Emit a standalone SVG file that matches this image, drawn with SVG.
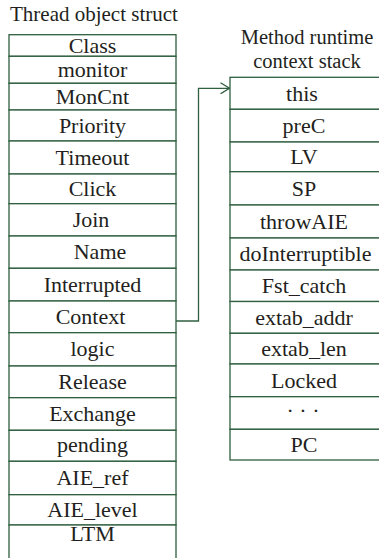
<svg xmlns="http://www.w3.org/2000/svg" width="379" height="558" viewBox="0 0 379 558" font-family="'Liberation Serif', 'DejaVu Serif', serif">
<style>
.c{fill:#ffffff;stroke:#2f5f3f;stroke-width:1.3}
text{font-family:'Liberation Serif','DejaVu Serif',serif;font-size:22px;fill:#231f20;text-anchor:middle}
.h{text-anchor:start;font-size:21px}
.t{font-size:20.5px}
.w{fill:none;stroke:#2f5f3f;stroke-width:1.3}
</style>
<defs>
<marker id="arr" viewBox="0 0 10 12" refX="9.5" refY="6" markerWidth="10" markerHeight="12" markerUnits="userSpaceOnUse" orient="auto">
<path d="M0.5,0.5 L9.5,6 L0.5,11.5" fill="none" stroke="#2f5f3f" stroke-width="1.3"/>
</marker>
</defs>
<text class="h" x="10" y="21">Thread object struct</text>
<text class="t" x="307" y="44">Method runtime</text>
<text class="t" x="307" y="67.5">context stack</text>
<g id="thread-struct">
<g id="t-class"><rect class="c" x="9" y="34.7" width="167" height="21.6"/><text x="92.5" y="52.5">Class</text></g>
<g id="t-monitor"><rect class="c" x="9" y="56.3" width="167" height="27"/><text x="92.5" y="76.5">monitor</text></g>
<g id="t-moncnt"><rect class="c" x="9" y="83.3" width="167" height="26.7"/><text x="92.5" y="103.5">MonCnt</text></g>
<g id="t-priority"><rect class="c" x="9" y="110" width="167" height="31"/><text x="92.5" y="132.5">Priority</text></g>
<g id="t-timeout"><rect class="c" x="9" y="141" width="167" height="33"/><text x="92.5" y="164.5">Timeout</text></g>
<g id="t-click"><rect class="c" x="9" y="174" width="167" height="29.7"/><text x="92.5" y="196">Click</text></g>
<g id="t-join"><rect class="c" x="9" y="203.7" width="167" height="32.3"/><text x="91" y="227">Join</text></g>
<g id="t-name"><rect class="c" x="9" y="236" width="167" height="32.3"/><text x="100" y="259">Name</text></g>
<g id="t-interrupted"><rect class="c" x="9" y="268.3" width="167" height="32.7"/><text x="92.5" y="291.5">Interrupted</text></g>
<g id="t-context"><rect class="c" x="9" y="301" width="167" height="31.7"/><text x="90.5" y="324">Context</text></g>
<g id="t-logic"><rect class="c" x="9" y="332.7" width="167" height="33.3"/><text x="92.5" y="355.5">logic</text></g>
<g id="t-release"><rect class="c" x="9" y="366" width="167" height="31.7"/><text x="92.5" y="388.5">Release</text></g>
<g id="t-exchange"><rect class="c" x="9" y="397.7" width="167" height="32.6"/><text x="92.5" y="420.5">Exchange</text></g>
<g id="t-pending"><rect class="c" x="9" y="430.3" width="167" height="31"/><text x="92.5" y="452">pending</text></g>
<g id="t-aie-ref"><rect class="c" x="9" y="461.3" width="167" height="33.4"/><text x="92.5" y="484.5">AIE_ref</text></g>
<g id="t-aie-level"><rect class="c" x="9" y="494.7" width="167" height="30.3"/><text x="92.5" y="517">AIE_level</text></g>
<g id="t-ltm"><rect class="c" x="9" y="525" width="167" height="40"/><text x="92.5" y="541">LTM</text></g>
</g>
<g id="context-stack">
<g id="s-this"><rect class="c" x="230" y="77.3" width="152" height="32"/><text x="302" y="100.5">this</text></g>
<g id="s-prec"><rect class="c" x="230" y="109.3" width="152" height="32.7"/><text x="304" y="132.5">preC</text></g>
<g id="s-lv"><rect class="c" x="230" y="142" width="152" height="29.7"/><text x="304" y="164">LV</text></g>
<g id="s-sp"><rect class="c" x="230" y="171.7" width="152" height="33.3"/><text x="304" y="195.5">SP</text></g>
<g id="s-throwaie"><rect class="c" x="230" y="205" width="152" height="33"/><text x="304" y="228.5">throwAIE</text></g>
<g id="s-dointerruptible"><rect class="c" x="230" y="238" width="152" height="32"/><text x="305.5" y="261">doInterruptible</text></g>
<g id="s-fst-catch"><rect class="c" x="230" y="270" width="152" height="31.5"/><text x="304" y="293">Fst_catch</text></g>
<g id="s-extab-addr"><rect class="c" x="230" y="301.5" width="152" height="31.8"/><text x="304" y="324.5">extab_addr</text></g>
<g id="s-extab-len"><rect class="c" x="230" y="333.3" width="152" height="30.7"/><text x="304" y="355.5">extab_len</text></g>
<g id="s-locked"><rect class="c" x="230" y="364" width="152" height="32.7"/><text x="304" y="387.5">Locked</text></g>
<g id="s-dots"><rect class="c" x="230" y="396.7" width="152" height="32.6"/><text x="303" y="418">· · ·</text></g>
<g id="s-pc"><rect class="c" x="230" y="429.3" width="152" height="30.7"/><text x="304" y="451.5">PC</text></g>
</g>
<g id="connectors">
<path class="w" d="M176,321 H198.5 V88.3 H229.5" marker-end="url(#arr)"/>
</g>
</svg>
